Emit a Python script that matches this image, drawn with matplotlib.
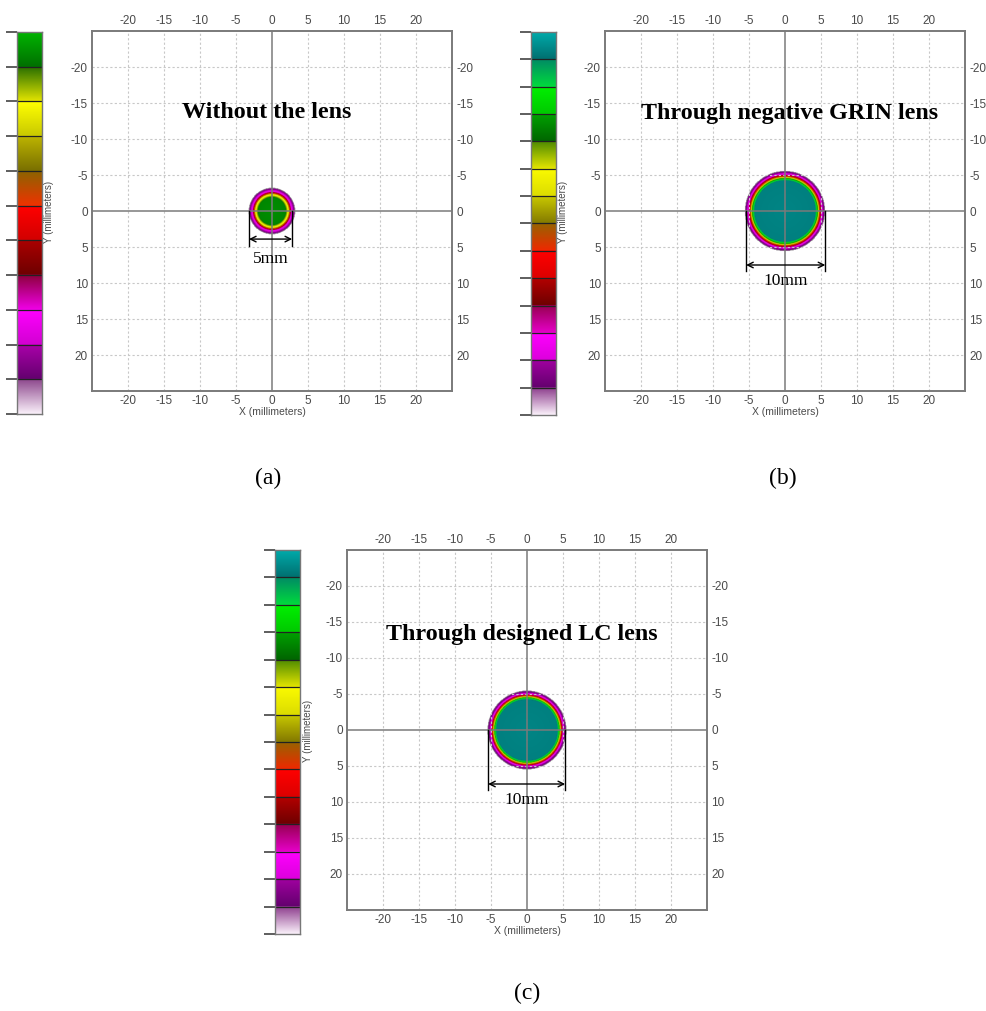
import numpy as np
import matplotlib
matplotlib.use("Agg")
import matplotlib.pyplot as plt
from matplotlib.colors import LinearSegmentedColormap

W, H = 987, 1011

# axis ticks (millimeters)
TICKS = [-20, -15, -10, -5, 0, 5, 10, 15, 20]
TICK_LABELS = ["-20", "-15", "-10", "-5", "0", "5", "10", "15", "20"]

# colour bands of the legend bars, top band first: (top colour, bottom colour)
BANDS_A = [
    ("#00b400", "#006e00"), ("#2a7000", "#e6e600"), ("#ffff00", "#c8c800"),
    ("#bcb400", "#786e00"), ("#8c6400", "#f03200"), ("#ff0000", "#d20000"),
    ("#aa0000", "#6e0000"), ("#8c003c", "#f000e6"), ("#ff00ff", "#d200d2"),
    ("#aa00aa", "#64006e"), ("#8c468c", "#faf0fa"),
]
BANDS_BC = [
    ("#00aaaa", "#006e6e"), ("#008c64", "#00dc3c"), ("#00f000", "#00c800"),
    ("#00a000", "#006400"), ("#508c00", "#e6e600"), ("#fafa00", "#dcdc00"),
    ("#c8c800", "#827800"), ("#966400", "#f02800"), ("#ff0000", "#dc0000"),
    ("#b40000", "#6e0000"), ("#960050", "#e600c8"), ("#ff00ff", "#dc00dc"),
    ("#a000a0", "#64006e"), ("#8c3c8c", "#faf0fa"),
]

# radial profile of each spot: radius (mm) -> colour level
SPOT_A_R = [0.0, 1.9, 2.1, 2.3, 2.5, 2.7, 3.0, 3.2]
SPOT_A_LEVEL = [0.95, 0.94, 0.84, 0.80, 0.50, 0.25, 0.15, 0.06]
SPOT_B_R = [0.0, 4.2, 4.45, 4.65, 4.85, 5.1, 5.35, 5.55]
SPOT_B_LEVEL = [0.955, 0.95, 0.84, 0.64, 0.41, 0.20, 0.11, 0.05]
SPOT_C_R = [0.0, 4.2, 4.45, 4.6, 4.8, 5.0, 5.25, 5.45]
SPOT_C_LEVEL = [0.955, 0.95, 0.84, 0.64, 0.41, 0.20, 0.11, 0.05]

TITLES = ["Without the lens", "Through negative GRIN lens", "Through designed LC lens"]
WIDTHS = ["5mm", "10mm", "10mm"]
PANEL_LABELS = ["(a)", "(b)", "(c)"]

GRAY = "#4a4a4a"


def box(l, t, r, b):
    return [l / W, 1 - b / H, (r - l) / W, (b - t) / H]


def make_cmap(bands):
    n = len(bands)
    nodes = []
    for k in range(n - 1, -1, -1):
        top, bottom = bands[k]
        lo = 1 - (k + 1) / n
        hi = 1 - k / n
        nodes.append((lo, bottom))
        nodes.append((hi, top))
    return LinearSegmentedColormap.from_list("bands", nodes, N=1024)


def draw_colorbar(fig, rect, bands, ylabel_x, ylabel_y):
    cax = fig.add_axes(box(*rect))
    cmap = make_cmap(bands)
    n = len(bands)
    grad = np.linspace(0, 1, 512).reshape(-1, 1)
    cax.imshow(grad, cmap=cmap, vmin=0, vmax=1, origin="lower",
               aspect="auto", extent=[0, 1, 0, 1])
    levels = [k / n for k in range(n + 1)]
    for v in levels[1:-1]:
        cax.axhline(v, color="#222222", lw=0.9)
    cax.set_xlim(0, 1)
    cax.set_ylim(0, 1)
    cax.set_xticks([])
    cax.set_yticks(levels)
    cax.set_yticklabels([])
    cax.tick_params(axis="y", direction="out", length=8, width=1.1,
                    color="#333333", left=True)
    for s in cax.spines.values():
        s.set_color("#777777")
        s.set_linewidth(1.0)
    fig.text(ylabel_x / W, 1 - ylabel_y / H, "Y (millimeters)", rotation=90,
             ha="center", va="center", fontsize=7, color=GRAY,
             family="Liberation Sans")
    return cmap


def draw_panel(fig, rect, cmap, radii, levels, title, title_xy, width_txt,
               x0, x1, arrow_y, text_y):
    ax = fig.add_axes(box(*rect))
    g = np.linspace(-25, 25, 601)
    xx, yy = np.meshgrid(g, g)
    r = np.hypot(xx, yy)
    val = np.interp(r, radii, levels)
    val = np.ma.masked_where(r > radii[-1], val)
    ax.imshow(val, cmap=cmap, vmin=0, vmax=1, extent=[-25, 25, 25, -25],
              interpolation="bilinear", zorder=1)
    ax.set_xlim(-25, 25)
    ax.set_ylim(25, -25)
    ax.set_aspect("auto")

    for t in TICKS:
        if t == 0:
            continue
        ax.axvline(t, color="#c8c8c8", lw=0.8, ls=(0, (2, 2)), zorder=2)
        ax.axhline(t, color="#c8c8c8", lw=0.8, ls=(0, (2, 2)), zorder=2)
    ax.axvline(0, color="#7a7a7a", lw=1.1, zorder=3)
    ax.axhline(0, color="#7a7a7a", lw=1.1, zorder=3)

    ax.set_xticks(TICKS)
    ax.set_xticklabels(TICK_LABELS)
    ax.set_yticks(TICKS)
    ax.set_yticklabels(TICK_LABELS)
    ax.tick_params(length=0, pad=3, labelsize=8.5, labelcolor=GRAY,
                   top=True, labeltop=True, right=True, labelright=True)
    for lab in ax.get_xticklabels() + ax.get_yticklabels():
        lab.set_family("Liberation Sans")
    ax.set_xlabel("X (millimeters)", fontsize=7.5, color=GRAY, labelpad=0,
                  family="Liberation Sans")
    for s in ax.spines.values():
        s.set_color("#7a7a7a")
        s.set_linewidth(1.4)

    ax.text(title_xy[0], title_xy[1], title, ha="center", va="center",
            fontsize=17.3, fontweight="bold", family="Liberation Serif",
            color="black", zorder=5)

    # width dimension
    ax.plot([x0, x0], [0, arrow_y + 0.9], color="black", lw=1.0, zorder=5)
    ax.plot([x1, x1], [0, arrow_y + 0.9], color="black", lw=1.0, zorder=5)
    ax.annotate("", xy=(x0, arrow_y), xytext=(x1, arrow_y),
                arrowprops=dict(arrowstyle="<->", color="black", lw=1.0,
                                shrinkA=0, shrinkB=0), zorder=5)
    ax.text((x0 + x1) / 2, text_y, width_txt, ha="center", va="center",
            fontsize=12.5, family="Liberation Serif", zorder=5)
    return ax


def main():
    fig = plt.figure(figsize=(W / 100, H / 100), dpi=100)
    fig.patch.set_facecolor("white")

    cmap_a = draw_colorbar(fig, (17, 32, 42, 414), BANDS_A, 49, 212)
    draw_panel(fig, (92, 31, 452, 391), cmap_a, SPOT_A_R, SPOT_A_LEVEL,
               TITLES[0], (-0.8, -13.7), WIDTHS[0], -3.2, 2.8, 3.9, 6.6)

    cmap_b = draw_colorbar(fig, (531, 32, 556, 415), BANDS_BC, 563, 212)
    draw_panel(fig, (605, 31, 965, 391), cmap_b, SPOT_B_R, SPOT_B_LEVEL,
               TITLES[1], (0.7, -13.5), WIDTHS[1], -5.4, 5.6, 7.5, 9.7)

    cmap_c = draw_colorbar(fig, (275, 550, 300, 934), BANDS_BC, 308, 731)
    draw_panel(fig, (347, 550, 707, 910), cmap_c, SPOT_C_R, SPOT_C_LEVEL,
               TITLES[2], (-0.7, -13.3), WIDTHS[2], -5.4, 5.3, 7.5, 9.7)

    for lab, (px, py) in zip(PANEL_LABELS, [(268, 478), (783, 478), (527, 993)]):
        fig.text(px / W, 1 - py / H, lab, ha="center", va="center",
                 fontsize=17, family="Liberation Serif")

    fig.savefig("out.png", dpi=100)


if __name__ == "__main__":
    main()
